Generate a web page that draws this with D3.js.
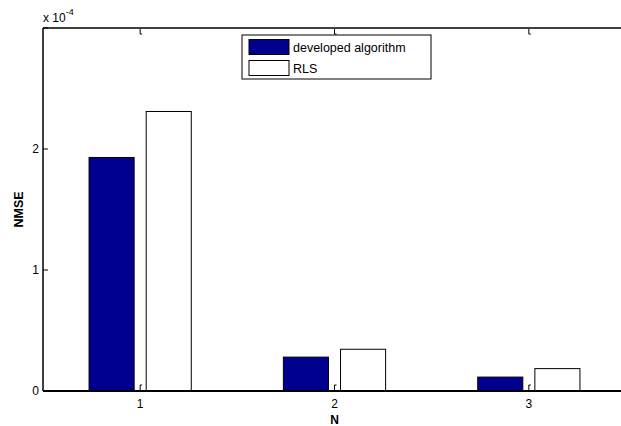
<!DOCTYPE html>
<html lang="en">
	<head>
		<meta charset="UTF-8">
		<title>NMSE</title>
		<script src="https://cdnjs.cloudflare.com/ajax/libs/d3/7.8.5/d3.min.js"></script>
		<style>
			body {margin: 0; background: #fff;}
			text {font-family: "Liberation Sans", Arial, sans-serif; fill: #000;}
		</style>
		<script>
var categories = [1, 2, 3];
var developed = [1.93e-4, 0.28e-4, 0.115e-4];
var rls = [2.31e-4, 0.345e-4, 0.185e-4];
var seriesNames = ["developed algorithm", "RLS"];
var yTicks = [0, 1e-4, 2e-4, 3e-4];
var yTickLabels = ["0", "1", "2", ""];

function makeChart() {
	var svg = d3.select("#chart").attr("width", 621).attr("height", 426);

	var left = 43, top = 28, bottom = 391, right = 626;

	var x = d3.scaleLinear().domain([0.5, 3.5]).range([left, right]);
	var y = d3.scaleLinear().domain([0, 3e-4]).range([bottom, top]);

	// bars: offset from each category centre, in data units of x
	var off = d3.scaleOrdinal().domain([0, 1]).range([-0.263, 0.031]);
	var bw = 0.232;
	var colors = ["#00008f", "#ffffff"];
	var series = [developed, rls];

	series.forEach(function(vals, s) {
		svg.selectAll(".bar" + s)
			.data(vals)
			.enter().append("rect")
			.attr("x", function(d, i) {return x(categories[i] + off(s));})
			.attr("y", function(d) {return y(d);})
			.attr("width", x(bw) - x(0))
			.attr("height", function(d) {return y(0) - y(d);})
			.attr("fill", colors[s])
			.attr("stroke", "#000").attr("stroke-width", 1);
	});

	// box lines
	svg.append("line").attr("x1", left).attr("x2", right).attr("y1", bottom).attr("y2", bottom)
		.attr("stroke", "#000").attr("stroke-width", 2);
	svg.append("line").attr("x1", left).attr("x2", right).attr("y1", top).attr("y2", top)
		.attr("stroke", "#000").attr("stroke-width", 1.5);
	svg.append("line").attr("x1", left).attr("x2", left).attr("y1", top).attr("y2", bottom)
		.attr("stroke", "#000").attr("stroke-width", 1.5);

	// x ticks (inward, bottom & top) and labels
	categories.forEach(function(c) {
		svg.append("path").attr("d", "M" + x(c) + "," + (bottom - 1) + "V" + (bottom - 6) + "h2")
			.attr("fill", "none").attr("stroke", "#000").attr("stroke-width", 1);
		svg.append("path").attr("d", "M" + x(c) + "," + (top + 1) + "V" + (top + 6) + "h2")
			.attr("fill", "none").attr("stroke", "#000").attr("stroke-width", 1);
		svg.append("text").attr("x", x(c)).attr("y", bottom + 17)
			.attr("text-anchor", "middle").style("font-size", "12px").text(c);
	});

	// y ticks and labels
	yTicks.forEach(function(t, i) {
		svg.append("line").attr("x1", left).attr("x2", left + 5).attr("y1", y(t)).attr("y2", y(t))
			.attr("stroke", "#000").attr("stroke-width", 1);
		svg.append("text").attr("x", left - 4).attr("y", y(t) + 4)
			.attr("text-anchor", "end").style("font-size", "12px").text(yTickLabels[i]);
	});

	// exponent
	var ex = svg.append("text").attr("x", 43).attr("y", 22).style("font-size", "12px");
	ex.append("tspan").text("x 10");
	ex.append("tspan").attr("dy", -7).style("font-size", "9px").text("-4");

	// axis titles
	svg.append("text").attr("x", x(2)).attr("y", 424).attr("text-anchor", "middle")
		.style("font-size", "12px").style("font-weight", "bold").text("N");
	svg.append("text").attr("transform", "translate(23," + y(1.5e-4) + ") rotate(-90)")
		.attr("text-anchor", "middle").style("font-size", "12.5px").style("font-weight", "bold").text("NMSE");

	// legend
	var lg = svg.append("g");
	lg.append("rect").attr("x", 242).attr("y", 35).attr("width", 189).attr("height", 44)
		.attr("fill", "#fff").attr("stroke", "#000").attr("stroke-width", 1);
	seriesNames.forEach(function(n, i) {
		lg.append("rect").attr("x", 249).attr("y", 39.5 + i * 21).attr("width", 40).attr("height", 15)
			.attr("fill", colors[i]).attr("stroke", "#000").attr("stroke-width", 1);
		lg.append("text").attr("x", 293).attr("y", 52 + i * 21).style("font-size", "12.5px").text(n);
	});
}
		</script>
	</head>
	<body onload="makeChart()">
		<svg id="chart"></svg>
	</body>
</html>
